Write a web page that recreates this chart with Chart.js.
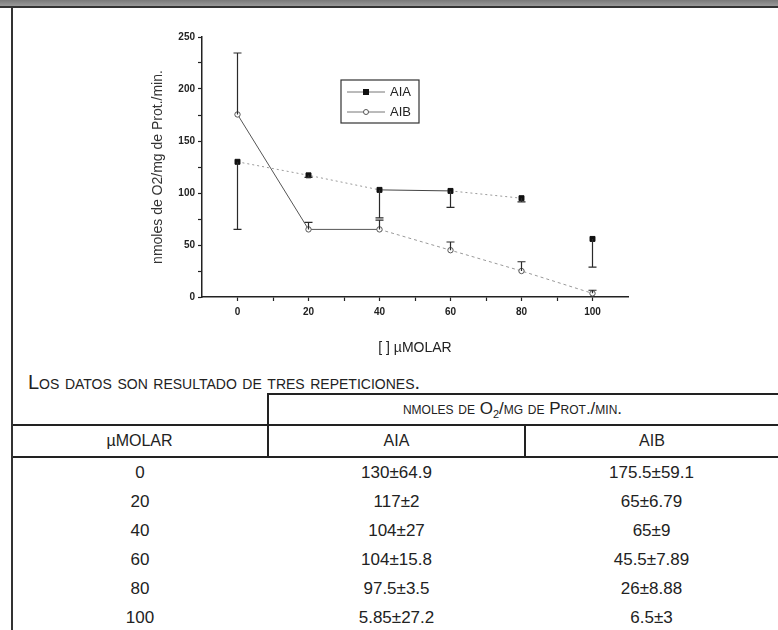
<!DOCTYPE html>
<html>
<head>
<meta charset="utf-8">
<script src="https://cdn.jsdelivr.net/npm/chart.js@4.4.1/dist/chart.umd.min.js"></script>
<style>
    body { margin: 0; background: #fff; width: 778px; height: 630px; overflow: hidden; position: relative; font-family: "Liberation Sans", Arial, sans-serif; color: #222; }
    #topBar { position: absolute; left: 0; top: 0; width: 778px; height: 6px; background: linear-gradient(#7a7a7a, #9a9a9a); border-bottom: 2px solid #333; z-index: 2; }
    #leftRule { position: absolute; left: 11px; top: 8px; width: 2px; height: 622px; background: #333; z-index: 2; }
    #chartBox { position: absolute; left: 0; top: 0; }
    #note { position: absolute; left: 28px; top: 370px; font-size: 20px; line-height: 24px; font-variant: small-caps; }
    #dataTable { position: absolute; left: 12px; top: 393px; width: 766px; border-collapse: collapse; font-size: 17px; }
    #dataTable td { text-align: center; padding: 0; }
    #dataTable .h1 td { height: 29px; }
    #dataTable .h1 .span { border-top: 2px solid #222; border-left: 2px solid #222; font-size: 17px; font-variant: small-caps; padding-right: 22px; }
    #dataTable .h2 td { height: 30px; border-top: 2px solid #222; border-bottom: 2px solid #222; font-size: 16px; }
    #dataTable .h2 td + td { border-left: 2px solid #222; }
    #dataTable .row td { height: 29px; }
    #dataTable tr.last td { border-bottom: 2px solid #444; }
    sub { font-size: 11px; }
</style>
</head>
<body>
<div id="topBar"></div>
<div id="leftRule"></div>
<canvas id="chartBox" width="778" height="362"></canvas>
<div id="note">Los datos son resultado de tres repeticiones.</div>
<table id="dataTable">
    <tr class="h1"><td style="width:255px"></td><td class="span" colspan="2">nmoles de O<sub>2</sub>/mg de Prot./min.</td></tr>
    <tr class="h2"><td>µMOLAR</td><td style="width:255px">AIA</td><td>AIB</td></tr>
</table>
<script>
// values
const concentrations = [0, 20, 40, 60, 80, 100];
const aiaMeans = [130, 117, 103, 102, 95, 55.85];
const aiaErrors = [64.9, 2, 27, 15.8, 3.5, 27.2];
const aibMeans = [175.5, 65, 65, 45, 25, 3.5];
const aibErrors = [59.1, 6.79, 9, 7.89, 8.88, 3];
const xTicks = [0, 20, 40, 60, 80, 100];
const yTicks = [0, 50, 100, 150, 200, 250];

// table text as printed
const tableConc = ['0', '20', '40', '60', '80', '100'];
const tableAia = ['130±64.9', '117±2', '104±27', '104±15.8', '97.5±3.5', '5.85±27.2'];
const tableAib = ['175.5±59.1', '65±6.79', '65±9', '45.5±7.89', '26±8.88', '6.5±3'];

const table = document.getElementById('dataTable');
tableConc.forEach(function(c, i) {
    const tr = document.createElement('tr');
    tr.className = 'row' + (i === tableConc.length - 1 ? ' last' : '');
    [c, tableAia[i], tableAib[i]].forEach(function(t) {
        const td = document.createElement('td');
        td.textContent = t;
        tr.appendChild(td);
    });
    table.appendChild(tr);
});

function withMinor(major) {
    const out = [];
    for (let i = 0; i < major.length; i++) {
        out.push(major[i]);
        if (i < major.length - 1) out.push((major[i] + major[i + 1]) / 2);
    }
    return out;
}

// error bars: AIA drawn downward, AIB upward
const errorBars = {
    id: 'errorBars',
    afterDatasetsDraw(chart) {
        const ctx = chart.ctx;
        const x = chart.scales.x, y = chart.scales.y;
        ctx.save();
        ctx.strokeStyle = '#2a2a2a';
        ctx.lineWidth = 1.2;
        chart.data.datasets.forEach(function(ds) {
            if (!ds.errors) return;
            ds.data.forEach(function(p, i) {
                const px = x.getPixelForValue(p.x);
                const y0 = y.getPixelForValue(p.y);
                const y1 = y.getPixelForValue(p.y + ds.errDir * ds.errors[i]);
                ctx.beginPath();
                ctx.moveTo(px, y0);
                ctx.lineTo(px, y1);
                ctx.moveTo(px - 4, y1);
                ctx.lineTo(px + 4, y1);
                ctx.stroke();
            });
        });
        ctx.restore();
    },
    afterDraw(chart) {
        // boxed legend inside the plot
        const ctx = chart.ctx;
        const a = chart.chartArea;
        const bx = a.left + 139, by = a.top + 43, bw = 78, bh = 43;
        ctx.save();
        ctx.strokeStyle = '#333';
        ctx.lineWidth = 1.2;
        ctx.strokeRect(bx, by, bw, bh);
        ctx.font = '13px "Liberation Sans", Arial, sans-serif';
        ctx.fillStyle = '#222';
        ctx.textBaseline = 'middle';
        chart.data.datasets.forEach(function(ds, i) {
            const ly = by + 12 + i * 20;
            ctx.strokeStyle = '#777';
            ctx.lineWidth = 1;
            ctx.beginPath();
            ctx.moveTo(bx + 6, ly);
            ctx.lineTo(bx + 44, ly);
            ctx.stroke();
            if (ds.pointStyle === 'rect') {
                ctx.fillStyle = '#111';
                ctx.fillRect(bx + 22, ly - 3, 6, 6);
            } else {
                ctx.fillStyle = '#fff';
                ctx.strokeStyle = '#555';
                ctx.beginPath();
                ctx.arc(bx + 25, ly, 2.5, 0, Math.PI * 2);
                ctx.fill();
                ctx.stroke();
            }
            ctx.fillStyle = '#222';
            ctx.fillText(ds.label, bx + 49, ly);
        });
        ctx.restore();
    }
};

new Chart(document.getElementById('chartBox'), {
    type: 'line',
    data: {
        datasets: [{
            label: 'AIA',
            data: concentrations.map((c, i) => ({ x: c, y: aiaMeans[i] })),
            errors: aiaErrors,
            errDir: -1,
            borderColor: '#888',
            borderWidth: 1,
            pointStyle: 'rect',
            pointRadius: 3.5,
            pointBackgroundColor: '#111',
            pointBorderColor: '#111',
            segment: {
                borderDash: ctx => ctx.p0DataIndex === 2 ? [] : [2, 3],
                borderColor: ctx => ctx.p0DataIndex === 4 ? 'transparent' : (ctx.p0DataIndex === 2 ? '#444' : '#999')
            }
        }, {
            label: 'AIB',
            data: concentrations.map((c, i) => ({ x: c, y: aibMeans[i] })),
            errors: aibErrors,
            errDir: 1,
            borderColor: '#666',
            borderWidth: 1,
            pointStyle: 'circle',
            pointRadius: 2.7,
            pointBackgroundColor: '#fff',
            pointBorderColor: '#555',
            pointBorderWidth: 1,
            segment: {
                borderDash: ctx => ctx.p0DataIndex < 2 ? [] : [3, 3],
                borderColor: ctx => ctx.p0DataIndex < 2 ? '#555' : '#999'
            }
        }]
    },
    options: {
        responsive: false,
        animation: false,
        devicePixelRatio: 1,
        layout: { padding: { left: 150, top: 37, right: 150, bottom: 0 } },
        plugins: { legend: { display: false }, tooltip: { enabled: false } },
        scales: {
            x: {
                type: 'linear',
                min: -10,
                max: 110,
                afterBuildTicks: s => { s.ticks = withMinor(xTicks).map(v => ({ value: v })); },
                afterFit: s => { s.height = 65; },
                ticks: {
                    autoSkip: false,
                    maxRotation: 0,
                    padding: 5,
                    color: '#222',
                    font: { family: '"Liberation Sans", Arial', size: 10, weight: 'bold' },
                    callback: v => xTicks.includes(v) ? v : ''
                },
                grid: { drawOnChartArea: false, tickLength: 4, color: '#222', tickWidth: 1.2 },
                border: { color: '#222', width: 1.5 },
                title: {
                    display: true,
                    text: '[ ] µMOLAR',
                    color: '#222',
                    font: { family: '"Liberation Sans", Arial', size: 14 },
                    padding: { top: 0, bottom: 5 }
                }
            },
            y: {
                min: 0,
                max: 250,
                afterBuildTicks: s => { s.ticks = withMinor(yTicks).map(v => ({ value: v })); },
                afterFit: s => { s.width = 52; },
                ticks: {
                    autoSkip: false,
                    padding: 3,
                    color: '#222',
                    font: { family: '"Liberation Sans", Arial', size: 10, weight: 'bold' },
                    callback: v => yTicks.includes(v) ? v : ''
                },
                grid: { drawOnChartArea: false, tickLength: 4, color: '#222', tickWidth: 1.2 },
                border: { color: '#222', width: 1.5 },
                title: {
                    display: true,
                    text: 'nmoles de O2/mg de Prot./min.',
                    color: '#333',
                    font: { family: '"Liberation Sans", Arial', size: 14 },
                    padding: { top: 0, bottom: 0 }
                }
            }
        }
    },
    plugins: [errorBars]
});
</script>
</body>
</html>
